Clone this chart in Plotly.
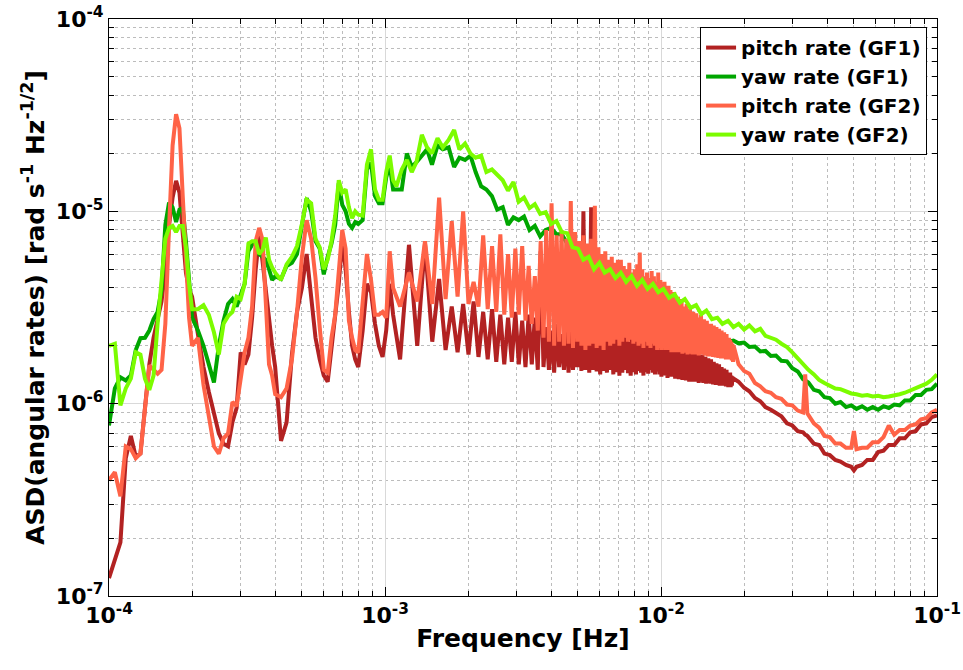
import plotly.graph_objects as go

# ---------------------------------------------------------------------------
# Amplitude spectral densities of the pitch / yaw angular rates (GF1, GF2).
# All amplitudes below are given in units of 1e-6 rad s^-1 Hz^-1/2.
# ---------------------------------------------------------------------------
UNIT = 1e-6
F_ORB = 1.745e-4          # orbital frequency [Hz]; spectral lines sit at its harmonics

# low-frequency band, frequencies in units of 1e-4 Hz
freq_low = [1.00, 1.05, 1.10, 1.15, 1.20, 1.25, 1.30, 1.35, 1.40, 1.45,
            1.50, 1.55, 1.60, 1.65, 1.70, 1.75, 1.80, 1.85, 1.90, 1.95,
            2.00, 2.10, 2.20, 2.30, 2.40, 2.50, 2.60, 2.70, 2.80, 2.90,
            3.00, 3.10, 3.20, 3.30, 3.40, 3.50, 3.60, 3.70, 3.80, 3.90,
            4.00, 4.20, 4.40, 4.60, 4.80, 5.00, 5.20, 5.40, 5.60, 5.80,
            6.00, 6.20, 6.40, 6.60, 6.80, 7.00, 7.20, 7.40, 7.60, 7.80,
            8.00, 8.30, 8.60, 8.90, 9.20, 9.50, 9.80, 10.1, 10.4, 10.7]

pitch_gf1_low = [0.124, 0.155, 0.19, 0.52, 0.68, 0.53, 0.55, 0.95, 1.6, 2.2,
                 2.7, 3.4, 5.0, 8.5, 11.8, 14.4, 12.5, 7.5, 4.8, 3.95,
                 3.6, 2.3, 1.55, 1.15, 0.9, 0.7, 0.62, 0.6, 0.8, 0.95,
                 1.85, 1.6, 1.8, 2.8, 5.0, 7.45, 5.5, 3.8, 2.6, 2.0,
                 1.55, 0.64, 0.8, 1.8, 3.0, 4.0, 6.0, 3.4, 2.2, 1.7,
                 1.4, 1.3, 1.9, 3.0, 4.2, 7.1, 5.0, 3.0, 2.0, 1.7,
                 1.55, 2.4, 4.2, 3.8, 2.6, 2.0, 1.75, 2.4, 4.2, 2.9]

pitch_gf2_low = [0.40, 0.44, 0.33, 0.60, 0.58, 0.52, 0.55, 1.0, 1.58, 1.5,
                 1.43, 1.5, 2.6, 8.1, 22.0, 32.0, 27.0, 12.0, 5.5, 2.8,
                 2.0, 2.2, 1.25, 0.85, 0.6, 0.55, 0.66, 0.7, 1.02, 0.97,
                 1.4, 1.85, 2.2, 3.2, 7.0, 8.2, 7.1, 3.5, 1.6, 1.4,
                 1.12, 1.08, 1.2, 1.7, 3.0, 5.8, 9.0, 7.2, 4.5, 2.5,
                 1.5, 1.45, 2.2, 2.9, 4.8, 8.0, 6.4, 2.7, 2.2, 1.9,
                 1.85, 3.6, 6.0, 4.4, 2.9, 2.9, 3.0, 2.8, 6.2, 4.0]

yaw_gf1_low = [0.77, 1.2, 1.37, 1.32, 1.40, 1.9, 2.19, 2.2, 2.4, 2.75,
               3.0, 3.9, 8.5, 11.1, 10.5, 8.8, 10.2, 10.4, 7.0, 4.2,
               2.8, 2.4, 2.0, 1.6, 1.29, 2.0, 2.7, 3.3, 3.5, 3.2,
               3.7, 4.2, 6.2, 6.7, 6.9, 6.0, 5.8, 5.6, 5.0, 4.4,
               4.6, 4.45, 5.2, 5.4, 6.0, 8.5, 11.7, 10.0, 7.0, 6.4,
               4.7, 5.8, 6.8, 8.5, 14.0, 10.8, 10.0, 8.6, 8.2, 8.8,
               8.6, 9.0, 16.5, 17.9, 12.0, 11.0, 11.0, 15.0, 17.5, 13.0]

yaw_gf2_low = [2.0, 2.05, 0.98, 1.2, 1.35, 1.85, 1.8, 1.35, 1.18, 1.4,
               2.6, 4.6, 7.2, 8.2, 8.4, 7.8, 8.4, 8.4, 6.5, 4.2,
               3.1, 3.1, 3.25, 2.9, 2.35, 1.8, 2.6, 2.85, 3.0, 3.6,
               3.5, 4.2, 6.8, 7.0, 7.0, 6.0, 6.3, 7.3, 5.6, 5.1,
               4.8, 4.4, 5.3, 5.8, 6.6, 8.6, 11.5, 11.0, 7.2, 6.5,
               5.0, 5.6, 7.0, 9.5, 14.5, 12.5, 13.0, 10.5, 9.2, 10.0,
               9.6, 9.5, 17.5, 21.0, 13.0, 11.5, 11.5, 16.0, 19.5, 14.5]

# pitch spectra between the orbital harmonics 6.5 ... 105:
# value on each harmonic n = 7..105 and half-way between harmonics n = 6.5..104.5
pitch_gf1_lines = [6.7, 6.8, 4.45, 3.2, 3.3, 3.4, 3.0, 3.1, 2.9, 2.8,
                   3.0, 2.7, 2.9, 2.8, 6.2, 2.5, 2.4, 2.6, 2.3, 2.4,
                   2.5, 2.3, 2.4, 10.0, 2.5, 10.5, 2.3, 2.4, 2.2, 2.35,
                   2.25, 2.3, 2.2, 2.3, 2.15, 2.25, 2.2, 2.1, 2.2, 2.15,
                   2.3, 2.2, 2.1, 2.25, 2.15, 2.1, 2.2, 2.05, 2.15, 2.1,
                   2.0, 2.1, 2.05, 2.0, 2.0, 1.95, 2.05, 1.9, 2.0, 1.95,
                   1.9, 2.0, 1.85, 1.95, 1.9, 1.85, 1.9, 1.8, 1.85, 1.8,
                   1.85, 1.75, 1.8, 1.75, 1.8, 1.7, 1.75, 1.7, 1.72, 1.65,
                   1.7, 1.6, 1.65, 1.6, 1.62, 1.55, 1.6, 1.52, 1.55, 1.5,
                   1.52, 1.45, 1.5, 1.45, 1.42, 1.45, 1.4, 1.38, 1.35]
pitch_gf1_between = [1.7, 2.0, 2.1, 1.9, 1.85, 1.8, 1.75, 1.7, 1.65, 1.6,
                     1.65, 1.6, 1.55, 1.6, 1.5, 1.55, 1.5, 1.45, 1.55, 1.5,
                     1.45, 1.5, 1.55, 1.48, 1.5, 1.45, 1.5, 1.47, 1.42, 1.48,
                     1.45, 1.5, 1.42, 1.46, 1.4, 1.45, 1.5, 1.44, 1.4, 1.46,
                     1.42, 1.48, 1.45, 1.4, 1.46, 1.43, 1.5, 1.45, 1.42, 1.47,
                     1.42, 1.38, 1.44, 1.4, 1.36, 1.42, 1.38, 1.4, 1.35, 1.38,
                     1.34, 1.38, 1.33, 1.36, 1.32, 1.35, 1.3, 1.34, 1.3, 1.32,
                     1.3, 1.33, 1.28, 1.32, 1.3, 1.28, 1.31, 1.27, 1.3, 1.28,
                     1.27, 1.3, 1.26, 1.28, 1.25, 1.28, 1.26, 1.24, 1.27, 1.25,
                     1.24, 1.26, 1.23, 1.25, 1.22, 1.24, 1.22, 1.24, 1.3]

pitch_gf2_lines = [4.8, 7.0, 11.8, 8.9, 10.0, 4.3, 7.5, 6.6, 7.6, 6.0,
                   6.4, 6.6, 5.2, 4.6, 7.0, 8.0, 11.0, 7.5, 8.0, 7.2,
                   11.3, 7.8, 7.0, 7.5, 6.8, 7.2, 10.7, 6.5, 6.0, 6.2,
                   5.6, 5.8, 5.4, 5.6, 5.6, 5.2, 5.0, 5.4, 4.8, 5.0,
                   5.3, 6.1, 5.0, 4.6, 4.8, 4.5, 4.9, 4.6, 4.3, 4.8,
                   4.4, 4.2, 4.3, 4.0, 4.1, 3.9, 3.6, 3.8, 3.4, 3.6,
                   3.3, 3.5, 3.2, 3.1, 3.3, 3.0, 3.1, 2.9, 3.0, 2.85,
                   2.95, 2.8, 2.75, 2.9, 2.7, 2.75, 2.65, 2.7, 2.6, 2.55,
                   2.6, 2.5, 2.55, 2.45, 2.5, 2.4, 2.45, 2.35, 2.4, 2.3,
                   2.35, 2.25, 2.3, 2.2, 2.2, 2.15, 2.1, 2.05, 2.0]
pitch_gf2_between = [3.2, 3.4, 3.3, 3.5, 3.6, 3.3, 3.2, 3.1, 3.0, 2.9,
                     2.8, 2.9, 2.7, 2.6, 2.4, 2.2, 2.1, 2.0, 2.1, 2.0,
                     2.05, 1.95, 2.1, 2.0, 1.9, 2.0, 2.05, 1.95, 2.0, 1.9,
                     2.1, 2.0, 2.05, 2.15, 2.0, 2.1, 2.2, 2.1, 2.15, 2.05,
                     2.1, 2.0, 2.05, 1.95, 2.1, 2.0, 1.95, 2.05, 2.0, 1.9,
                     1.95, 1.9, 2.0, 1.9, 1.95, 1.9, 1.85, 1.9, 1.85, 1.9,
                     1.85, 1.9, 1.82, 1.86, 1.84, 1.8, 1.86, 1.82, 1.8, 1.84,
                     1.8, 1.84, 1.78, 1.82, 1.8, 1.83, 1.78, 1.8, 1.76, 1.8,
                     1.76, 1.8, 1.75, 1.78, 1.74, 1.77, 1.73, 1.76, 1.72, 1.75,
                     1.72, 1.74, 1.7, 1.73, 1.7, 1.72, 1.7, 1.68, 1.65]

# pitch spectra above the line forest, frequencies in units of 1e-3 Hz
freq_pitch_high = [19.1, 20.0, 20.9, 21.9, 22.9, 23.9, 25.0, 26.1, 27.3, 28.6,
                   29.9, 31.3, 32.7, 33.3, 33.9, 35.8, 37.4, 39.1, 40.9, 42.8,
                   44.7, 46.8, 48.9, 50.0, 51.1, 53.5, 55.9, 58.5, 61.2, 64.0,
                   66.9, 70.0, 73.2, 76.5, 80.0, 83.7, 87.5, 91.5, 95.7, 100.0]
pitch_gf1_high = [1.3, 1.21, 1.16, 1.07, 1.03, 0.96, 0.93, 0.89, 0.86, 0.79,
                  0.77, 0.72, 0.71, 0.69, 0.68, 0.62, 0.61, 0.55, 0.54, 0.51,
                  0.5, 0.48, 0.47, 0.45, 0.47, 0.48, 0.51, 0.51, 0.56, 0.57,
                  0.61, 0.61, 0.66, 0.66, 0.71, 0.72, 0.78, 0.79, 0.85, 0.87]
pitch_gf2_high = [1.6, 1.48, 1.43, 1.28, 1.23, 1.16, 1.14, 1.08, 1.06, 0.99,
                  0.98, 0.92, 0.9, 1.42, 0.89, 0.79, 0.75, 0.68, 0.67, 0.62,
                  0.62, 0.59, 0.59, 0.72, 0.58, 0.59, 0.59, 0.63, 0.63, 0.67,
                  0.77, 0.69, 0.73, 0.73, 0.77, 0.78, 0.83, 0.84, 0.9, 0.93]

# yaw spectra above 1.1 mHz, frequencies in units of 1e-3 Hz
freq_yaw_high = [1.1, 1.15, 1.2, 1.25, 1.3, 1.36, 1.42, 1.48, 1.55, 1.62,
                 1.7, 1.78, 1.86, 1.95, 2.04, 2.13, 2.23, 2.33, 2.44, 2.55,
                 2.67, 2.79, 2.92, 3.05, 3.19, 3.34, 3.49, 3.65, 3.82, 4.0,
                 4.18, 4.37, 4.57, 4.78, 5.0, 5.23, 5.47, 5.72, 5.98, 6.25,
                 6.54, 6.84, 7.15, 7.48, 7.82, 8.18, 8.55, 8.94, 9.35, 9.78,
                 10.2, 10.7, 11.2, 11.7, 12.2, 12.8, 13.4, 14.0, 14.6, 15.3,
                 16.0, 16.7, 17.5, 18.3, 19.1, 20.0, 20.9, 21.9, 22.9, 23.9,
                 25.0, 26.1, 27.3, 28.6, 29.9, 31.3, 32.7, 34.2, 35.8, 37.4,
                 39.1, 40.9, 42.8, 44.7, 46.8, 48.9, 51.1, 53.5, 55.9, 58.5,
                 61.2, 64.0, 66.9, 70.0, 73.2, 76.5, 80.0, 83.7, 87.5, 91.5,
                 95.7, 100.0]
yaw_gf1_high = [13.0, 13.0, 20.0, 17.0, 18.0, 19.5, 21.0, 17.5, 22.0, 21.0,
                21.5, 17.0, 19.0, 18.5, 19.5, 16.0, 13.5, 13.0, 12.0, 10.2,
                10.5, 8.5, 9.3, 9.0, 9.4, 8.0, 8.4, 7.4, 8.0, 8.2,
                7.6, 7.6, 6.8, 6.4, 5.6, 5.5, 5.1, 5.0, 4.7, 4.7,
                4.3, 4.3, 4.0, 3.95, 3.65, 3.65, 3.45, 3.45, 3.25, 3.25,
                3.0, 3.0, 2.8, 2.85, 2.7, 2.75, 2.55, 2.55, 2.38, 2.37,
                2.22, 2.2, 2.1, 2.13, 2.06, 2.08, 1.97, 1.98, 1.87, 1.88,
                1.77, 1.78, 1.67, 1.66, 1.53, 1.47, 1.34, 1.29, 1.18, 1.16,
                1.08, 1.07, 1.0, 1.02, 0.96, 0.98, 0.94, 0.97, 0.93, 0.96,
                0.93, 0.97, 0.95, 0.99, 0.98, 1.04, 1.04, 1.11, 1.11, 1.18,
                1.19, 1.27]
yaw_gf2_high = [13.5, 16.5, 18.5, 16.0, 18.0, 25.0, 21.5, 20.0, 24.0, 21.5,
                23.5, 26.5, 21.0, 22.5, 20.0, 19.0, 19.5, 16.0, 16.5, 15.5,
                14.5, 12.8, 14.2, 11.2, 11.8, 10.4, 10.9, 9.7, 9.9, 8.6,
                8.9, 7.8, 7.7, 6.5, 6.4, 5.6, 5.8, 5.0, 5.4, 4.8,
                5.0, 4.5, 4.8, 4.3, 4.6, 4.1, 4.4, 3.95, 4.2, 3.8,
                3.95, 3.55, 3.7, 3.35, 3.5, 3.15, 3.25, 2.92, 3.05, 2.75,
                2.8, 2.6, 2.7, 2.5, 2.6, 2.43, 2.55, 2.38, 2.45, 2.25,
                2.2, 2.15, 2.05, 1.97, 1.85, 1.72, 1.62, 1.5, 1.42, 1.33,
                1.28, 1.24, 1.2, 1.19, 1.16, 1.13, 1.12, 1.1, 1.11, 1.09,
                1.1, 1.08, 1.09, 1.1, 1.12, 1.14, 1.17, 1.2, 1.23, 1.27,
                1.33, 1.42]

series_names = ["pitch rate (GF1)", "yaw rate (GF1)",
                "pitch rate (GF2)", "yaw rate (GF2)"]
series_colors = ["#B22222", "#00A600", "#FF6347", "#7CFC00"]

x_tick_vals = [1e-4, 1e-3, 1e-2, 1e-1]
x_tick_text = ["10<sup>-4</sup>", "10<sup>-3</sup>", "10<sup>-2</sup>", "10<sup>-1</sup>"]
y_tick_vals = [1e-7, 1e-6, 1e-5, 1e-4]
y_tick_text = ["10<sup>-7</sup>", "10<sup>-6</sup>", "10<sup>-5</sup>", "10<sup>-4</sup>"]


def pitch_spectrum(low, between, lines, high):
    """Join the low band, the harmonic line forest and the high band."""
    freqs = [f * 1e-4 for f in freq_low]
    amps = list(low)
    for i, (lo, hi) in enumerate(zip(between, lines)):
        freqs += [(6.5 + i) * F_ORB, (7 + i) * F_ORB]
        amps += [lo, hi]
    freqs += [f * 1e-3 for f in freq_pitch_high]
    amps += list(high)
    return freqs, [a * UNIT for a in amps]


def yaw_spectrum(low, high):
    freqs = [f * 1e-4 for f in freq_low] + [f * 1e-3 for f in freq_yaw_high]
    return freqs, [a * UNIT for a in list(low) + list(high)]


spectra = [
    pitch_spectrum(pitch_gf1_low, pitch_gf1_between, pitch_gf1_lines, pitch_gf1_high),
    yaw_spectrum(yaw_gf1_low, yaw_gf1_high),
    pitch_spectrum(pitch_gf2_low, pitch_gf2_between, pitch_gf2_lines, pitch_gf2_high),
    yaw_spectrum(yaw_gf2_low, yaw_gf2_high),
]

fig = go.Figure()
for name, color, (f, a) in zip(series_names, series_colors, spectra):
    fig.add_trace(go.Scatter(x=f, y=a, mode="lines", name=name,
                             line=dict(color=color, width=4)))

FONT = "DejaVu Sans"


def minor_ticks(lo, hi):
    return [k * 10.0 ** e for e in range(lo, hi) for k in range(2, 10)]


axis_common = dict(
    type="log", showline=True, linecolor="black", linewidth=1, mirror="ticks",
    ticks="inside", ticklen=9, tickcolor="black", tickwidth=1,
    showgrid=True, gridcolor="#d9d9d9", gridwidth=1, zeroline=False,
    automargin=False,
    tickfont=dict(family=FONT, size=22, color="black", weight="bold"),
)

fig.update_xaxes(
    **axis_common, range=[-4, -1], tickmode="array",
    tickvals=x_tick_vals, ticktext=x_tick_text,
    minor=dict(tickmode="array", tickvals=minor_ticks(-4, -1), ticks="inside",
               ticklen=5, tickcolor="black", showgrid=True,
               gridcolor="#bcbcbc", griddash="dot", gridwidth=1),
    title=dict(text="Frequency [Hz]", standoff=2,
               font=dict(family=FONT, size=25, color="black", weight="bold")),
)
fig.update_yaxes(
    **axis_common, range=[-7, -4], tickmode="array",
    tickvals=y_tick_vals, ticktext=y_tick_text,
    minor=dict(tickmode="array", tickvals=minor_ticks(-7, -4), ticks="inside",
               ticklen=5, tickcolor="black", showgrid=True,
               gridcolor="#bcbcbc", griddash="dot", gridwidth=1),
    title=dict(text="ASD(angular rates) [rad s<sup>-1</sup> Hz<sup>-1/2</sup>]",
               standoff=4,
               font=dict(family=FONT, size=25, color="black", weight="bold")),
)

fig.update_layout(
    width=963, height=670,
    margin=dict(l=109, r=26, t=19, b=74, autoexpand=False),
    paper_bgcolor="white", plot_bgcolor="white",
    font=dict(family=FONT, color="black"),
    showlegend=True,
    legend=dict(x=0.988, y=0.986, xanchor="right", yanchor="top",
                bgcolor="white", bordercolor="black", borderwidth=1,
                font=dict(family=FONT, size=20, color="black", weight="bold"),
                tracegroupgap=0, itemwidth=30),
)

fig.write_html("out.html")
